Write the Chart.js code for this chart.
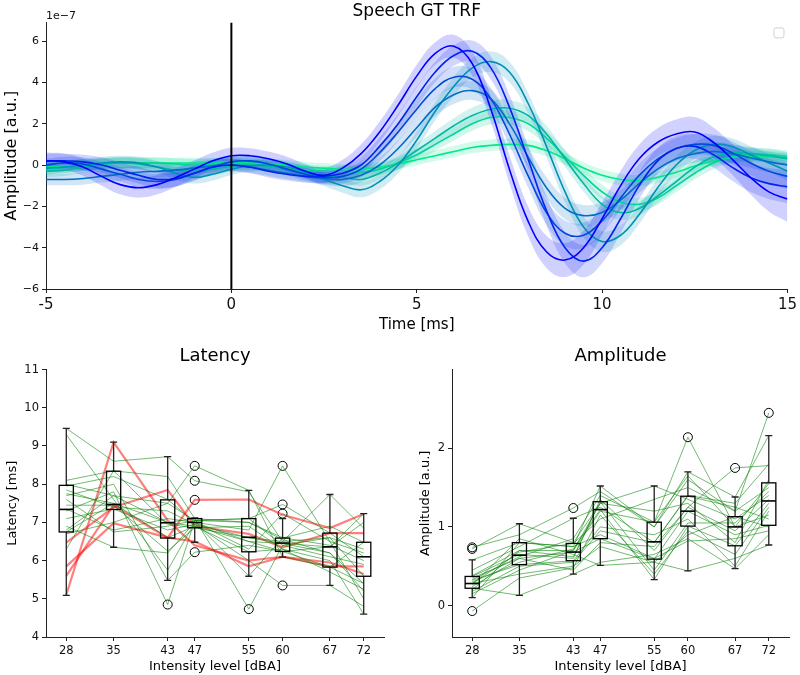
<!DOCTYPE html>
<html>
<head>
<meta charset="utf-8">
<script src="https://cdn.jsdelivr.net/npm/chart.js@4.4.1/dist/chart.umd.min.js"></script>
<style>
  body { margin: 0; background: #fff; width: 800px; height: 675px; position: relative; overflow: hidden; }
  canvas { position: absolute; }
  #trf { left: 0; top: 0; }
  #lat { left: 0; top: 340px; }
  #amp { left: 400px; top: 340px; }
</style>
</head>
<body>
<canvas id="trf" width="800" height="340"></canvas>
<canvas id="lat" width="400" height="335"></canvas>
<canvas id="amp" width="400" height="335"></canvas>
<script>
// ---- TRF waveforms (units of 1e-7) ----
const timeMs = [-5,-4.5,-4,-3.5,-3,-2.5,-2,-1.5,-1,-0.5,0,0.5,1,1.5,2,2.5,3,3.5,4,4.5,5,5.5,6,6.5,7,7.5,8,8.5,9,9.5,10,10.5,11,11.5,12,12.5,13,13.5,14,14.5,15];

const trf0 = [0.2,0.15,-0.1,-0.55,-0.95,-1.1,-0.95,-0.6,-0.2,0.2,0.45,0.45,0.3,0.05,-0.3,-0.5,-0.15,0.55,1.6,2.9,4.3,5.4,5.75,4.9,2.7,-0.2,-2.7,-4.2,-4.6,-4.0,-2.6,-1.0,0.3,1.1,1.5,1.6,1.1,0.3,-0.6,-1.3,-1.65];
const trf1 = [0.2,0.2,0.15,0.0,-0.25,-0.5,-0.7,-0.65,-0.4,-0.1,0.0,-0.1,-0.3,-0.45,-0.55,-0.55,-0.4,0.0,0.9,2.0,3.3,4.5,5.3,5.5,4.7,2.8,0.3,-2.2,-4.0,-4.65,-4.0,-2.6,-1.0,0.2,0.8,0.9,0.5,-0.1,-0.6,-0.9,-1.05];
const trf2 = [0.0,0.1,0.05,-0.2,-0.45,-0.7,-0.8,-0.7,-0.4,-0.1,0.15,0.2,0.05,-0.2,-0.45,-0.6,-0.55,-0.2,0.6,1.6,2.7,3.7,4.25,4.15,3.2,1.5,-0.5,-2.3,-3.3,-3.4,-2.7,-1.6,-0.5,0.3,0.8,1.0,0.95,0.6,0.1,-0.3,-0.55];
const trf3 = [-0.7,-0.7,-0.65,-0.55,-0.45,-0.35,-0.3,-0.25,-0.15,-0.05,0.0,-0.1,-0.25,-0.4,-0.55,-0.65,-0.7,-0.5,0.0,0.8,1.8,2.8,3.4,3.6,3.2,2.0,0.4,-1.1,-2.1,-2.45,-2.3,-1.7,-0.9,-0.2,0.3,0.55,0.65,0.55,0.35,0.15,0.0];
const trf4 = [-0.15,-0.1,0.0,0.1,0.15,0.1,-0.1,-0.4,-0.6,-0.45,-0.2,-0.05,0.0,-0.1,-0.35,-0.7,-1.0,-1.2,-0.8,0.0,1.2,2.6,3.8,4.7,5.0,4.5,3.0,0.9,-1.3,-3.0,-3.7,-3.4,-2.4,-1.1,0.0,0.7,1.0,0.9,0.5,0.1,-0.3];
const trf5 = [-0.3,-0.25,-0.1,0.05,0.1,0.05,-0.1,-0.25,-0.3,-0.2,-0.05,0.0,-0.05,-0.2,-0.35,-0.5,-0.6,-0.7,-0.4,0.1,0.7,1.3,1.9,2.4,2.7,2.75,2.4,1.5,0.3,-0.9,-1.9,-2.3,-2.1,-1.5,-0.8,-0.1,0.4,0.6,0.55,0.45,0.3];
const trf6 = [-0.2,-0.1,0.0,0.05,0.1,0.1,0.1,0.05,0.0,0.05,0.1,0.05,-0.05,-0.15,-0.25,-0.3,-0.3,-0.35,-0.2,0.1,0.5,1.0,1.5,2.0,2.3,2.3,2.0,1.3,0.4,-0.5,-1.3,-1.8,-1.9,-1.6,-1.0,-0.4,0.1,0.4,0.5,0.5,0.4];
const trf7 = [-0.1,-0.05,0.0,0.05,0.1,0.1,0.1,0.1,0.1,0.1,0.15,0.1,0.05,0.0,-0.1,-0.15,-0.2,-0.2,-0.1,0.05,0.25,0.45,0.65,0.85,0.95,1.0,0.95,0.7,0.3,-0.15,-0.5,-0.7,-0.75,-0.6,-0.35,-0.05,0.2,0.35,0.4,0.4,0.35];

// standard error bands (same time grid)
const sem0 = [0.4,0.4,0.42,0.45,0.47,0.48,0.47,0.45,0.42,0.4,0.38,0.36,0.35,0.35,0.35,0.36,0.4,0.45,0.5,0.52,0.55,0.55,0.55,0.58,0.62,0.68,0.72,0.78,0.82,0.82,0.78,0.72,0.68,0.68,0.7,0.72,0.72,0.75,0.82,0.95,1.1];
const sem1 = [0.35,0.35,0.35,0.37,0.38,0.4,0.4,0.38,0.36,0.34,0.32,0.3,0.3,0.3,0.3,0.32,0.35,0.4,0.45,0.48,0.5,0.5,0.5,0.52,0.55,0.6,0.65,0.7,0.75,0.78,0.75,0.7,0.65,0.62,0.6,0.6,0.62,0.65,0.7,0.75,0.8];
const sem2 = [0.3,0.3,0.32,0.34,0.35,0.36,0.36,0.35,0.33,0.32,0.3,0.3,0.3,0.3,0.3,0.32,0.34,0.38,0.42,0.45,0.48,0.5,0.5,0.5,0.52,0.55,0.58,0.6,0.62,0.62,0.6,0.58,0.55,0.52,0.5,0.5,0.52,0.55,0.58,0.6,0.62];
const sem3 = [0.28,0.28,0.3,0.3,0.32,0.32,0.32,0.32,0.3,0.3,0.28,0.28,0.28,0.28,0.28,0.3,0.32,0.35,0.38,0.4,0.42,0.44,0.45,0.45,0.46,0.48,0.5,0.52,0.52,0.52,0.5,0.48,0.46,0.45,0.44,0.44,0.45,0.46,0.48,0.5,0.52];
const sem4 = [0.3,0.3,0.3,0.3,0.3,0.3,0.3,0.3,0.3,0.3,0.28,0.28,0.28,0.28,0.3,0.32,0.34,0.36,0.38,0.4,0.42,0.44,0.46,0.48,0.5,0.5,0.5,0.5,0.5,0.5,0.5,0.48,0.46,0.44,0.42,0.4,0.4,0.4,0.42,0.44,0.46];
const sem5 = [0.28,0.28,0.28,0.28,0.28,0.28,0.28,0.28,0.28,0.28,0.26,0.26,0.26,0.26,0.26,0.28,0.3,0.3,0.3,0.32,0.34,0.35,0.36,0.38,0.4,0.4,0.4,0.4,0.4,0.4,0.38,0.36,0.35,0.34,0.33,0.32,0.32,0.32,0.32,0.32,0.32];
const sem6 = [0.28,0.28,0.28,0.28,0.28,0.28,0.28,0.28,0.28,0.28,0.26,0.26,0.26,0.26,0.26,0.26,0.28,0.28,0.28,0.3,0.3,0.32,0.32,0.34,0.34,0.35,0.35,0.35,0.35,0.35,0.34,0.33,0.32,0.32,0.31,0.3,0.3,0.3,0.3,0.3,0.3];
const sem7 = [0.25,0.25,0.25,0.25,0.25,0.25,0.25,0.25,0.25,0.25,0.25,0.25,0.25,0.25,0.25,0.25,0.25,0.25,0.25,0.25,0.26,0.26,0.27,0.27,0.28,0.28,0.28,0.28,0.28,0.28,0.28,0.28,0.27,0.27,0.26,0.26,0.26,0.26,0.26,0.26,0.26];

const trfMeans = [trf0, trf1, trf2, trf3, trf4, trf5, trf6, trf7];
const trfSems = [sem0, sem1, sem2, sem3, sem4, sem5, sem6, sem7];
// winter colormap, blue -> spring green
const trfColors = ['0,0,255','0,36,237','0,73,219','0,109,200','0,146,182','0,182,164','0,212,150','0,232,140'];

// ---- Latency / amplitude per intensity level ----
const levels = [28, 35, 43, 47, 55, 60, 67, 72];

// boxplot stats
const latQ1  = [6.75, 7.34, 6.59, 6.86, 6.23, 6.24, 5.83, 5.59];
const latMed = [7.34, 7.47, 6.99, 7.0, 6.61, 6.46, 6.36, 6.1];
const latQ3  = [7.97, 8.34, 7.59, 7.1, 7.1, 6.59, 6.72, 6.48];
const latLo  = [5.09, 6.35, 5.48, 6.48, 5.59, 6.09, 5.35, 4.6];
const latHi  = [9.46, 9.1, 8.72, 7.12, 7.84, 7.1, 7.73, 7.23];
const latOutX = [43, 47, 47, 47, 47, 55, 60, 60, 60, 60];
const latOutY = [4.85, 8.48, 8.09, 7.59, 6.22, 4.73, 8.48, 7.47, 7.23, 5.35];

const ampQ1  = [0.22, 0.52, 0.57, 0.85, 0.59, 1.01, 0.76, 1.02];
const ampMed = [0.28, 0.64, 0.68, 1.22, 0.81, 1.2, 1.0, 1.33];
const ampQ3  = [0.37, 0.8, 0.79, 1.32, 1.06, 1.39, 1.13, 1.56];
const ampLo  = [0.1, 0.13, 0.4, 0.51, 0.33, 0.44, 0.47, 0.77];
const ampHi  = [0.58, 1.04, 1.11, 1.52, 1.52, 1.7, 1.38, 2.16];
const ampOutX = [28, 28, 28, 43, 60, 67, 72];
const ampOutY = [0.74, 0.72, -0.07, 1.24, 2.14, 1.75, 2.45];

// individual subjects, latency [ms]
const latGreen = [
  [9.46, 8.6, 8.72, 8.09, 7.8, 6.5, 6.6, 6.3],
  [9.3, 7.6, 5.75, 7.0, 6.5, 6.45, 6.2, 5.2],
  [8.1, 8.35, 8.2, 7.1, 7.0, 6.6, 6.4, 6.0],
  [8.0, 7.7, 7.5, 8.48, 7.84, 6.1, 5.83, 5.4],
  [7.95, 8.2, 7.6, 7.0, 6.8, 8.48, 6.5, 5.0],
  [7.85, 7.4, 7.3, 6.95, 6.6, 6.5, 7.73, 6.85],
  [7.75, 7.5, 7.0, 6.9, 6.23, 6.3, 6.0, 4.6],
  [7.7, 8.0, 5.48, 6.22, 6.4, 6.24, 6.36, 7.0],
  [7.6, 6.75, 6.9, 7.05, 7.1, 7.47, 6.72, 6.1],
  [7.45, 7.45, 6.25, 6.86, 6.9, 6.3, 5.7, 5.25],
  [7.35, 6.8, 7.1, 7.0, 5.6, 6.59, 6.9, 6.48],
  [7.3, 7.8, 4.85, 7.05, 7.1, 6.4, 6.1, 5.9],
  [7.1, 7.35, 6.8, 6.95, 6.0, 5.35, 5.35, 4.8],
  [6.9, 6.35, 6.2, 7.0, 6.3, 7.23, 6.5, 6.2],
  [6.8, 7.7, 7.0, 7.1, 4.73, 6.4, 6.6, 5.6],
  [6.75, 7.5, 6.6, 6.9, 6.5, 6.24, 5.83, 6.48],
  [6.7, 7.0, 7.5, 7.05, 7.0, 6.55, 6.2, 5.4],
  [6.3, 8.35, 6.95, 6.86, 6.6, 6.45, 6.36, 7.23]
];
const latRed = [
  [5.1, 9.1, 7.05, 6.4, 6.0, 6.1, 5.95, 5.65],
  [6.47, 7.4, 7.85, 6.9, 6.7, 6.35, 6.72, 6.72],
  [5.6, 7.45, 6.6, 7.59, 7.6, 7.2, 6.85, 7.22],
  [5.85, 6.98, 6.6, 6.5, 5.85, 6.1, 5.85, 5.85]
];

// individual subjects, amplitude [a.u.]
const ampGreen = [
  [0.74, 0.9, 1.24, 1.45, 1.0, 1.6, 1.2, 1.5],
  [0.72, 1.04, 0.8, 1.3, 1.52, 1.35, 1.1, 1.4],
  [0.58, 0.8, 0.75, 1.52, 1.0, 1.7, 1.38, 2.16],
  [0.45, 0.75, 1.11, 1.25, 0.8, 1.4, 1.3, 1.8],
  [0.38, 0.7, 0.7, 1.2, 1.06, 2.14, 1.0, 1.55],
  [0.37, 0.65, 0.6, 1.35, 0.7, 1.25, 1.75, 1.78],
  [0.35, 0.6, 0.68, 0.85, 0.59, 1.2, 0.9, 1.02],
  [0.32, 0.52, 0.57, 1.0, 0.9, 1.1, 0.5, 1.2],
  [0.3, 0.55, 0.72, 1.22, 0.33, 1.01, 0.76, 1.3],
  [0.28, 0.4, 0.5, 0.75, 0.55, 0.9, 1.13, 1.0],
  [0.28, 0.68, 0.79, 1.1, 1.35, 1.5, 1.2, 2.45],
  [0.26, 0.85, 0.65, 0.51, 0.55, 0.44, 0.6, 0.77],
  [0.24, 0.6, 0.45, 0.8, 0.75, 1.25, 0.95, 1.35],
  [0.22, 0.13, 0.4, 0.55, 0.65, 0.85, 0.47, 0.9],
  [0.2, 0.7, 0.62, 1.32, 0.45, 1.05, 1.05, 1.45],
  [0.18, 0.5, 0.55, 0.95, 0.8, 1.39, 1.25, 1.1],
  [0.15, 0.45, 0.7, 1.3, 1.2, 1.3, 0.8, 1.6],
  [0.1, 0.8, 0.75, 0.9, 0.6, 0.82, 0.85, 0.95],
  [-0.07, 0.35, 0.48, 1.15, 0.4, 0.95, 0.65, 1.25],
  [0.33, 0.62, 0.85, 1.4, 1.06, 1.65, 1.0, 1.15]
];

Chart.defaults.font.family = '"DejaVu Sans", sans-serif';
Chart.defaults.color = '#000';
Chart.defaults.animation = false;
Chart.defaults.events = [];

const minus = v => (v < 0 ? '\u2212' + Math.abs(v) : String(v));

function axis(extra) {
  return Object.assign({
    type: 'linear',
    grid: { display: true, drawOnChartArea: false, drawTicks: true, tickLength: 4, color: '#222' },
    border: { display: true, color: '#222', width: 1 },
    ticks: { color: '#111', padding: 3, font: { size: 11.5 }, autoSkip: false, maxRotation: 0 }
  }, extra);
}

// ---------------- TRF chart ----------------
const trfDatasets = [];
trfMeans.forEach((m, i) => {
  const s = trfSems[i];
  const c = trfColors[i];
  trfDatasets.push({
    data: timeMs.map((t, k) => ({ x: t, y: m[k] + s[k] })),
    borderWidth: 0, pointRadius: 0, tension: 0.4,
    backgroundColor: `rgba(${c},0.18)`, fill: '+1', order: 2
  });
  trfDatasets.push({
    data: timeMs.map((t, k) => ({ x: t, y: m[k] - s[k] })),
    borderWidth: 0, pointRadius: 0, tension: 0.4, fill: false, order: 2
  });
});
trfMeans.forEach((m, i) => {
  trfDatasets.push({
    data: timeMs.map((t, k) => ({ x: t, y: m[k] })),
    borderColor: `rgb(${trfColors[i]})`, borderWidth: 1.6,
    pointRadius: 0, tension: 0.4, fill: false, order: 1
  });
});
// stimulus onset marker
trfDatasets.push({
  data: [{ x: 0, y: -6 }, { x: 0, y: 6.9 }],
  borderColor: '#000', borderWidth: 2, pointRadius: 0, fill: false, order: 0
});

const trfExtras = {
  id: 'trfExtras',
  afterDraw(chart) {
    const { ctx, chartArea } = chart;
    ctx.save();
    ctx.font = '11px "DejaVu Sans"';
    ctx.fillStyle = '#111';
    ctx.textBaseline = 'bottom';
    ctx.fillText('1e\u22127', chartArea.left, chartArea.top - 1);
    // empty legend box
    ctx.strokeStyle = '#d0d0d0';
    ctx.lineWidth = 1;
    ctx.beginPath();
    ctx.roundRect(chartArea.right - 13.5, chartArea.top + 5.5, 10, 10, 2);
    ctx.stroke();
    ctx.restore();
  }
};

new Chart(document.getElementById('trf'), {
  type: 'line',
  data: { datasets: trfDatasets },
  options: {
    responsive: false,
    layout: { padding: { right: 10 } },
    plugins: {
      legend: { display: false },
      tooltip: { enabled: false },
      title: {
        display: true, text: 'Speech GT TRF', fullSize: false,
        font: { size: 17, weight: 'normal' }, padding: { top: 1, bottom: 1 }, color: '#000'
      }
    },
    scales: {
      x: axis({
        min: -5, max: 15,
        ticks: { stepSize: 5, font: { size: 15 }, padding: 3, color: '#111', maxRotation: 0 },
        title: { display: true, text: 'Time [ms]', font: { size: 15 }, padding: { top: 0, bottom: 6 }, color: '#000' },
        afterFit(s) { s.height = 51; }
      }),
      y: axis({
        min: -6, max: 6.9,
        ticks: { font: { size: 11 }, padding: 3, color: '#111', callback: minus },
        afterBuildTicks(s) { s.ticks = [-6, -4, -2, 0, 2, 4, 6].map(v => ({ value: v })); },
        title: { display: true, text: 'Amplitude [a.u.]', font: { size: 16 }, padding: { top: 2, bottom: 0 }, color: '#000' },
        afterFit(s) { s.width = 46; }
      })
    }
  },
  plugins: [trfExtras]
});

// ---------------- box plots ----------------
const boxPlugin = {
  id: 'boxes',
  afterDatasetsDraw(chart, args, opts) {
    const { ctx, scales: { x, y } } = chart;
    ctx.save();
    ctx.lineWidth = 1.3;
    levels.forEach((lv, i) => {
      const cx = x.getPixelForValue(lv);
      const hw = x.getPixelForValue(lv + 1.05) - cx;
      const cap = hw / 2;
      const q1 = y.getPixelForValue(opts.q1[i]);
      const q3 = y.getPixelForValue(opts.q3[i]);
      const md = y.getPixelForValue(opts.med[i]);
      const lo = y.getPixelForValue(opts.lo[i]);
      const hi = y.getPixelForValue(opts.hi[i]);
      ctx.strokeStyle = '#222';
      ctx.beginPath();
      ctx.moveTo(cx, q1); ctx.lineTo(cx, lo);
      ctx.moveTo(cx, q3); ctx.lineTo(cx, hi);
      ctx.moveTo(cx - cap, lo); ctx.lineTo(cx + cap, lo);
      ctx.moveTo(cx - cap, hi); ctx.lineTo(cx + cap, hi);
      ctx.stroke();
      ctx.strokeStyle = '#000';
      ctx.strokeRect(cx - hw, q3, 2 * hw, q1 - q3);
      ctx.lineWidth = 1.6;
      ctx.beginPath();
      ctx.moveTo(cx - hw, md); ctx.lineTo(cx + hw, md);
      ctx.stroke();
      ctx.lineWidth = 1.3;
    });
    ctx.restore();
  }
};

function subjectSets(rows, color, width) {
  return rows.map(r => ({
    data: levels.map((lv, k) => ({ x: lv, y: r[k] })),
    borderColor: color, borderWidth: width, pointRadius: 0, tension: 0, fill: false
  }));
}

function outlierSet(xs, ys) {
  return {
    type: 'scatter',
    data: xs.map((v, k) => ({ x: v, y: ys[k] })),
    pointRadius: 4.5, pointStyle: 'circle', borderColor: '#000', borderWidth: 1,
    backgroundColor: 'rgba(0,0,0,0)', showLine: false
  };
}

function levelAxis() {
  return {
    x: axis({
      min: 25, max: 75,
      afterBuildTicks(s) { s.ticks = levels.map(v => ({ value: v })); },
      title: { display: true, text: 'Intensity level [dBA]', font: { size: 13 }, padding: { top: 0, bottom: 1 }, color: '#000' },
      afterFit(s) { s.height = 38; }
    })
  };
}

const latSets = [].concat(
  subjectSets(latGreen, 'rgba(0,128,0,0.55)', 1),
  subjectSets(latRed, 'rgba(255,0,0,0.5)', 2.2),
  [outlierSet(latOutX, latOutY)]
);

new Chart(document.getElementById('lat'), {
  type: 'line',
  data: { datasets: latSets },
  options: {
    responsive: false,
    layout: { padding: { right: 16 } },
    plugins: {
      legend: { display: false },
      tooltip: { enabled: false },
      title: { display: true, text: 'Latency', fullSize: false, font: { size: 18, weight: 'normal' }, padding: { top: 6, bottom: 2 }, color: '#000' },
      boxes: { q1: latQ1, med: latMed, q3: latQ3, lo: latLo, hi: latHi }
    },
    scales: Object.assign(levelAxis(), {
      y: axis({
        min: 4, max: 11,
        ticks: { stepSize: 1, font: { size: 11.5 }, padding: 3, color: '#111' },
        title: { display: true, text: 'Latency [ms]', font: { size: 13 }, padding: { top: 5, bottom: 0 }, color: '#000' },
        afterFit(s) { s.width = 46; }
      })
    })
  },
  plugins: [boxPlugin]
});

const ampSets = [].concat(
  subjectSets(ampGreen, 'rgba(0,128,0,0.55)', 1),
  [outlierSet(ampOutX, ampOutY)]
);

new Chart(document.getElementById('amp'), {
  type: 'line',
  data: { datasets: ampSets },
  options: {
    responsive: false,
    layout: { padding: { right: 11 } },
    plugins: {
      legend: { display: false },
      tooltip: { enabled: false },
      title: { display: true, text: 'Amplitude', fullSize: false, font: { size: 18, weight: 'normal' }, padding: { top: 6, bottom: 2 }, color: '#000' },
      boxes: { q1: ampQ1, med: ampMed, q3: ampQ3, lo: ampLo, hi: ampHi }
    },
    scales: Object.assign(levelAxis(), {
      y: axis({
        min: -0.4, max: 3.0,
        ticks: { font: { size: 11.5 }, padding: 3, color: '#111' },
        afterBuildTicks(s) { s.ticks = [0, 1, 2].map(v => ({ value: v })); },
        title: { display: true, text: 'Amplitude [a.u.]', font: { size: 13 }, padding: { top: 18, bottom: 0 }, color: '#000' },
        afterFit(s) { s.width = 52; }
      })
    })
  },
  plugins: [boxPlugin]
});
</script>
</body>
</html>
